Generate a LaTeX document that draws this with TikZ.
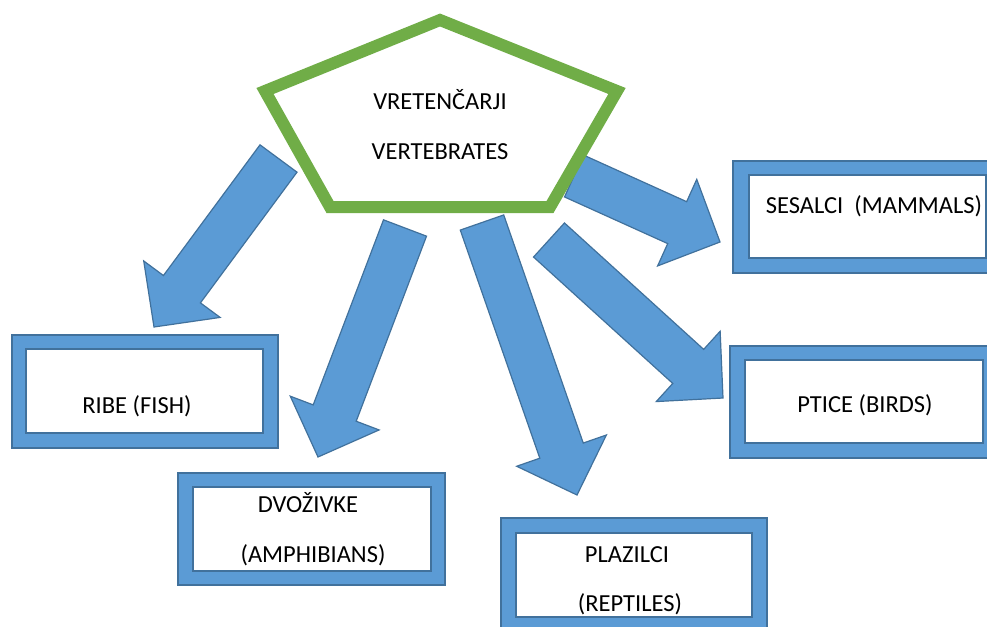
\documentclass[tikz,border=0pt]{standalone}
\usepackage{fontspec}
\setmainfont{Carlito}
\usetikzlibrary{calc}
\definecolor{abl}{HTML}{5B9BD5}
\definecolor{abd}{HTML}{41719C}
\definecolor{pgr}{HTML}{70AD47}
\tikzset{
  barrow/.style={fill=abl, draw=abd, line width=1.2pt, line join=miter},
  outerbox/.style={fill=abl, draw=abd, line width=1.2pt},
  innerbox/.style={fill=white, draw=abd, line width=1.2pt},
  pent/.style={draw=pgr, fill=white, line width=12pt, line join=miter},
  lbl/.style={anchor=base, inner sep=0pt, font=\fontsize{24.5}{29}\selectfont},
}
\newcommand\myblockarrow[3]{%
  \coordinate (#1-b) at ($(#3)!47pt!(#2)$);
  \draw[barrow] ($(#2)!23pt!90:(#3)$) -- ($(#1-b)!23pt!90:(#3)$) -- ($(#1-b)!47.5pt!90:(#3)$)
    -- (#3) -- ($(#1-b)!47.5pt!-90:(#3)$) -- ($(#1-b)!23pt!-90:(#3)$) -- ($(#2)!23pt!-90:(#3)$) -- cycle;
}
\begin{document}
\begin{tikzpicture}[x=1pt, y=-1pt]
\useasboundingbox (0,0) rectangle (987,626);
% arrow end points
\coordinate (a1t) at (278.5,158.5); \coordinate (a1h) at (154,327);
\coordinate (a2t) at (405,228);     \coordinate (a2h) at (318,457);
\coordinate (a3t) at (482,222.5);   \coordinate (a3h) at (577,495);
\coordinate (a4t) at (549,240);     \coordinate (a4h) at (723,398);
\coordinate (a5t) at (574,176);     \coordinate (a5h) at (720,242);
\myblockarrow{a1}{a1t}{a1h}
\myblockarrow{a2}{a2t}{a2h}
\myblockarrow{a3}{a3t}{a3h}
\myblockarrow{a4}{a4t}{a4h}
\myblockarrow{a5}{a5t}{a5h}
% pentagon
\draw[pent] (440,20) -- (617,91) -- (550,207) -- (330,207) -- (265,91) -- cycle;
\node[lbl] (t1) at (440,109) {VRETENČARJI};
\node[lbl] (t2) at (440,159) {VERTEBRATES};
% boxes
\draw[outerbox] (12,335) rectangle (278,448);
\draw[innerbox] (26,349) rectangle (263,433);
\draw[outerbox] (178,473) rectangle (445,585);
\draw[innerbox] (193,487) rectangle (431,571);
\draw[outerbox] (501,518) rectangle (767,634);
\draw[innerbox] (516,533) rectangle (752,617);
\draw[outerbox] (733,161) rectangle (1004,273);
\draw[innerbox] (749,175) rectangle (986,258);
\draw[outerbox] (730,346) rectangle (1004,458);
\draw[innerbox] (745,360) rectangle (983,443);
% labels
\node[lbl] (ribe) at (137,413) {RIBE (FISH)};
\node[lbl] (dvo1) at (308,512) {DVOŽIVKE};
\node[lbl] (dvo2) at (313,562) {(AMPHIBIANS)};
\node[lbl] (pla1) at (627,562) {PLAZILCI};
\node[lbl] (pla2) at (630,611) {(REPTILES)};
\node[lbl] (ses) at (874,213) {SESALCI\ \ (MAMMALS)};
\node[lbl] (pti) at (865,412) {PTICE (BIRDS)};
\end{tikzpicture}
\end{document}
